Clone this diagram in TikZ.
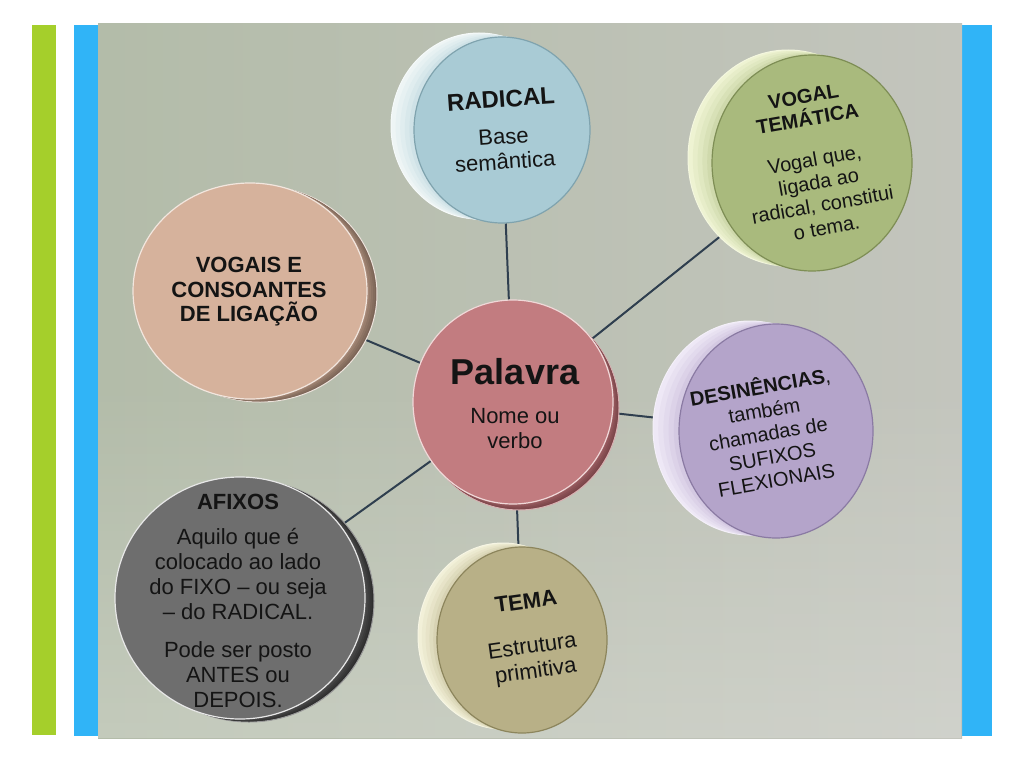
\documentclass[tikz,border=0pt]{standalone}
\usepackage{fontspec}
\setmainfont{Liberation Sans}
\usetikzlibrary{shapes.geometric,fadings}
\pgfdeclarelayer{back}\pgfdeclarelayer{lines}
\pgfsetlayers{back,lines,main}
\definecolor{barg}{HTML}{A5CF2B}
\definecolor{barb}{HTML}{30B4F7}
\definecolor{bgL}{HTML}{B3BCA9}
\definecolor{bgR}{HTML}{C3C5BD}
\definecolor{linkc}{HTML}{2F3F4F}
\definecolor{txt}{HTML}{141414}
% disc colours
\definecolor{radicalface}{HTML}{A9CBD5}\definecolor{radicalrim}{HTML}{EEF5F5}\definecolor{radicaledge}{HTML}{7FA3AE}\definecolor{radicalredge}{HTML}{F6FAFA}
\definecolor{vogalface}{HTML}{A9BA7D}\definecolor{vogalrim}{HTML}{EEF3D2}\definecolor{vogaledge}{HTML}{7E8E55}\definecolor{vogalredge}{HTML}{F4F7DF}
\definecolor{vogaisface}{HTML}{D6B29C}\definecolor{vogaisrim}{HTML}{7B6456}\definecolor{vogaisedge}{HTML}{F2E6DE}\definecolor{vogaisredge}{HTML}{EDE3DC}
\definecolor{palface}{HTML}{C27C80}\definecolor{palrim}{HTML}{7A4448}\definecolor{paledge}{HTML}{F0D8D8}\definecolor{palredge}{HTML}{D9B0B2}
\definecolor{desinface}{HTML}{B4A4CA}\definecolor{desinrim}{HTML}{EEE8F6}\definecolor{desinedge}{HTML}{8A7AA3}\definecolor{desinredge}{HTML}{F4F0F9}
\definecolor{afixface}{HTML}{6E6E6E}\definecolor{afixrim}{HTML}{2E2E2E}\definecolor{afixedge}{HTML}{E8E8E8}\definecolor{afixredge}{HTML}{9A9A9A}
\definecolor{temaface}{HTML}{B8B087}\definecolor{temarim}{HTML}{F2F0D8}\definecolor{temaedge}{HTML}{8C855C}\definecolor{temaredge}{HTML}{F6F5E4}
\tikzfading[name=fadeup, top color=transparent!100, bottom color=transparent!0]
\tikzset{
  face/.style={ellipse, inner sep=0pt, line width=1.2pt},
  lbl/.style={align=center, text=txt, font=\fontsize{22}{25}\selectfont, inner sep=0pt},
  link/.style={draw=linkc, line width=2pt},
}
% #1 name, #2 x, #3 y, #4 rx, #5 ry, #6 dx, #7 dy, #8 colour prefix
\newcommand\mkdisc[8]{%
  \fill[#8rim, draw=#8redge, line width=1pt] ({#2+(#6)},{#3+(#7)}) ellipse [x radius=#4pt, y radius=#5pt];
  \foreach \t/\p in {0.8/90,0.6/80,0.4/68,0.2/55}{\fill[#8rim!\p!#8face] ({#2+\t*(#6)},{#3+\t*(#7)}) ellipse [x radius=#4pt, y radius=#5pt];}
  \node[face, fill=#8face, draw=#8edge, minimum width={2*#4pt}, minimum height={2*#5pt}] (#1) at (#2,#3) {};
}
\begin{document}
\begin{tikzpicture}[x=1pt,y=-1pt]
\useasboundingbox (0,0) rectangle (1024,768);
\begin{pgfonlayer}{back}
  \fill[white] (0,0) rectangle (1024,768);
  \fill[barg] (32,25) rectangle (56,735);
  \fill[barb] (74,25) rectangle (98,736);
  \fill[barb] (962,25) rectangle (992,736);
  \shade[left color=bgL, right color=bgR] (98,24) rectangle (962,738);
  \fill[white, opacity=0.22, path fading=fadeup] (98,380) rectangle (962,738);
\end{pgfonlayer}

\mkdisc{radical}{502}{130}{88}{93}{-23}{-4}{radical}
\mkdisc{vogal}{812}{163}{100}{108}{-24}{-5}{vogal}
\mkdisc{vogais}{250}{291}{117}{108}{10}{3}{vogais}
\mkdisc{palavra}{513}{402}{100}{102}{6}{6}{pal}
\mkdisc{desin}{776}{431}{97}{107}{-26}{-3}{desin}
\mkdisc{afixos}{240}{598}{125}{121}{9}{3}{afix}
\mkdisc{tema}{522}{640}{85}{93}{-19}{-4}{tema}

\node[lbl, rotate=4] (tRadical) at (503,130) {{\fontsize{24}{26}\selectfont\bfseries RADICAL}\\[12pt]Base\\semântica};
\node[lbl, rotate=10, font=\fontsize{20}{23}\selectfont] (tVogal) at (815,162) {{\bfseries VOGAL}\\{\bfseries TEMÁTICA}\\[18pt]Vogal que,\\ligada ao\\radical, constitui\\o tema.};
\node[lbl, font=\fontsize{22}{24.5}\selectfont\bfseries] (tVogais) at (249,292) {VOGAIS E\\CONSOANTES\\DE LIGAÇÃO};
\node[lbl] (tPalavra) at (515,404) {{\fontsize{36}{38}\selectfont\bfseries Palavra}\\[14pt]Nome ou\\verbo};
\node[lbl, rotate=10, font=\fontsize{20}{23.5}\selectfont] (tDesin) at (768,432) {{\bfseries DESINÊNCIAS},\\também\\chamadas de\\SUFIXOS\\FLEXIONAIS};
\node[lbl] (tAfixos) at (238,601) {{\bfseries AFIXOS}\\[10pt]Aquilo que é\\colocado ao lado\\do FIXO – ou seja\\– do RADICAL.\\[13pt]Pode ser posto\\ANTES ou\\DEPOIS.};
\node[lbl, rotate=8] (tTema) at (531,638) {{\bfseries TEMA}\\[20pt]Estrutura\\primitiva};

\begin{pgfonlayer}{lines}
  \draw[link] (radical) -- (palavra);
  \draw[link] (vogal) -- (palavra);
  \draw[link] (vogais) -- (palavra);
  \draw[link] (desin) -- (palavra);
  \draw[link] (afixos) -- (palavra);
  \draw[link] (tema) -- (palavra);
\end{pgfonlayer}
\end{tikzpicture}
\end{document}
